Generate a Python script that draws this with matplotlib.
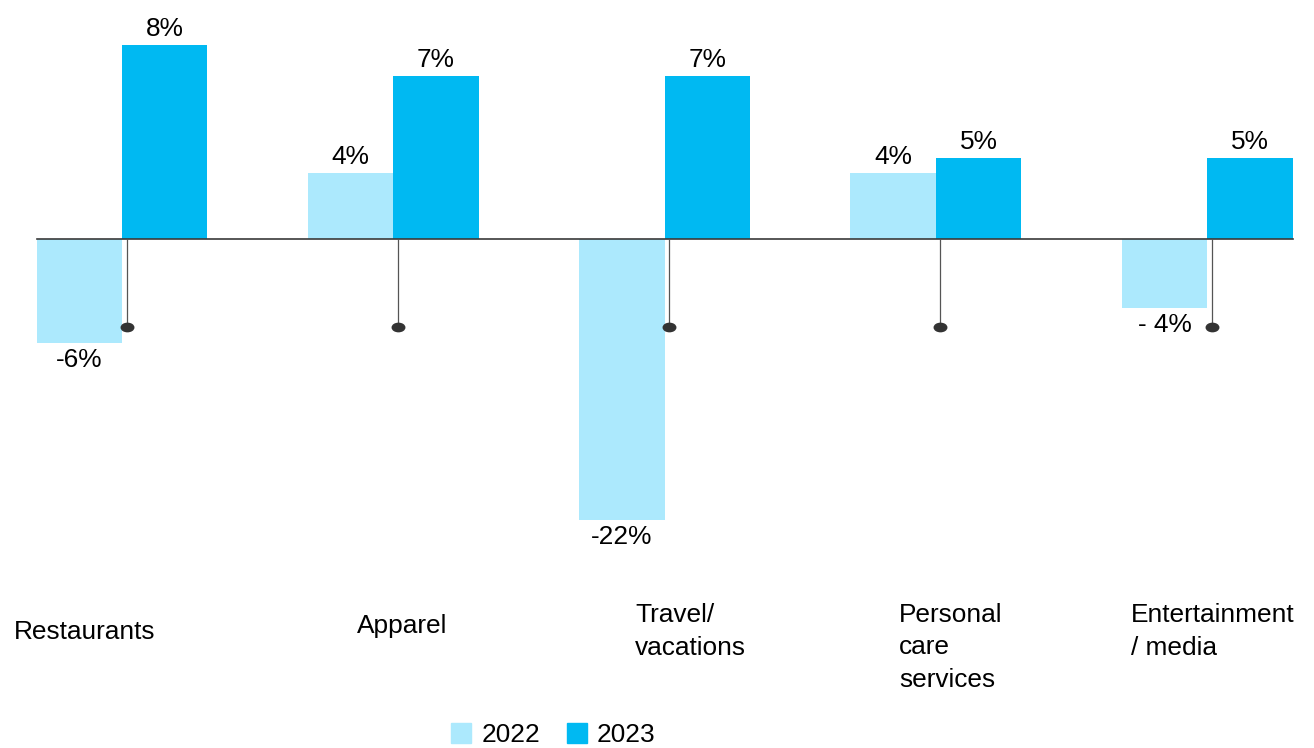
import matplotlib
matplotlib.use("Agg")
import matplotlib.pyplot as plt
import matplotlib.path as mpath
from matplotlib.transforms import Affine2D
from matplotlib.patches import Patch

plt.rcParams['font.family'] = ['Liberation Sans', 'DejaVu Sans']

# dados
categorias = ["Restaurants", "Apparel", "Travel/\nvacations", "Personal\ncare\nservices", "Entertainment\n/ media"]
# altura das barras como desenhadas no gráfico original (escala não é uniforme)
barras_2022 = [-6.3, 4.0, -17.0, 4.0, -4.2]
barras_2023 = [11.75, 9.9, 9.9, 4.9, 4.9]
# rótulos mostrados
rotulos_2022 = ["-6%", "4%", "-22%", "4%", "- 4%"]
rotulos_2023 = ["8%", "7%", "7%", "5%", "5%"]
series = ["2022", "2023"]

cor_2022 = "#ACE9FD"
cor_2023 = "#00B9F2"

W, H = 1314, 748
fig = plt.figure(figsize=(W / 100, H / 100), dpi=100)
ax = fig.add_axes([0, 0, 1, 1])
ax.axis("off")

largura = 0.315
x = list(range(len(categorias)))
x_2022 = [i - largura / 2 for i in x]
x_2023 = [i + largura / 2 for i in x]

ax.bar(x_2022, barras_2022, width=largura, color=cor_2022, linewidth=0)
ax.bar(x_2023, barras_2023, width=largura, color=cor_2023, linewidth=0)

# linha do zero
ax.plot([-largura, x[-1] + largura], [0, 0], color="#3a3a3a", lw=1.2, zorder=3)

# hastes com ponto
ponto = mpath.Path.unit_circle().transformed(Affine2D().scale(1.5, 1))
for i in x:
    xs = i + 0.0166
    ax.plot([xs, xs], [0, -5.35], color="#555555", lw=0.9, zorder=3)
    ax.plot([xs], [-5.35], marker=ponto, markersize=9, color="#333333", zorder=4)

# rótulos de valor
fs = 18.9
for xs, v, r in zip(x_2022 + x_2023, barras_2022 + barras_2023, rotulos_2022 + rotulos_2023):
    if v >= 0:
        ax.annotate(r, (xs, v), xytext=(0, 6.5), textcoords="offset points",
                    ha="center", va="baseline", fontsize=fs)
    else:
        ax.annotate(r, (xs, v), xytext=(0, -17.3), textcoords="offset points",
                    ha="center", va="baseline", fontsize=fs)

ax.set_xlim(-122 / 271.3, (W - 122) / 271.3)
escala = 16.5
ax.set_ylim(-(H - 239) / escala, 239 / escala)

# rótulos das categorias (baseline da primeira linha, em pixels)
pos_cat = [(14, 639), (357, 633), (635, 623), (899, 623), (1131, 623)]
passo = 32
for nome, (px, py) in zip(categorias, pos_cat):
    n = nome.count("\n")
    fig.text(px / W, 1 - (py + passo * n) / H, nome, ha="left", va="baseline",
             fontsize=fs, linespacing=1.45)

# legenda
handles = [Patch(color=cor_2022, label=series[0]), Patch(color=cor_2023, label=series[1])]
fig.legend(handles=handles, loc="center", bbox_to_anchor=(0.4212, 0.0174), ncol=2,
           frameon=False, fontsize=fs, handlelength=0.76, handleheight=0.76,
           handletextpad=0.4, columnspacing=1.0, borderpad=0)

plt.savefig("out.png", dpi=100)
